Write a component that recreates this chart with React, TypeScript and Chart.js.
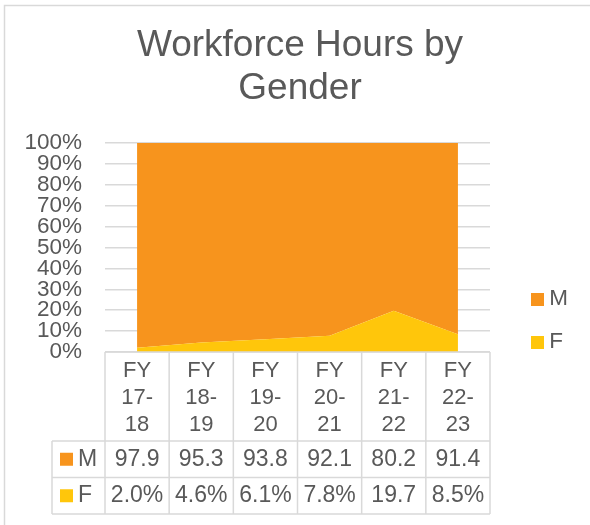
import React, { useEffect, useRef } from 'react';
import { Chart, registerables } from 'chart.js';

Chart.register(...registerables);

// ---- data ----
const categories: string[][] = [
  ['FY', '17-', '18'],
  ['FY', '18-', '19'],
  ['FY', '19-', '20'],
  ['FY', '20-', '21'],
  ['FY', '21-', '22'],
  ['FY', '22-', '23'],
];
const seriesNames = ['M', 'F'];
const mValues = [97.9, 95.3, 93.8, 92.1, 80.2, 91.4];
const fValues = [2.0, 4.6, 6.1, 7.8, 19.7, 8.5];
const titleLines = ['Workforce Hours by', 'Gender'];

// ---- styles ----
const FONT = "'Liberation Sans', Arial, sans-serif";
const TEXT = '#595959';
const GRID = '#d9d9d9';
const ORANGE = '#F7941D';
const YELLOW = '#FFC60B';

const shareOf = (a: number[], b: number[]) => a.map((v, i) => (v / (a[i] + b[i])) * 100);

const makeSwatch = (color: string) => {
  const c = document.createElement('canvas');
  c.width = 13;
  c.height = 13;
  const g = c.getContext('2d')!;
  g.fillStyle = color;
  g.fillRect(0, 0, 13, 13);
  return c;
};

const borderPlugin = {
  id: 'outerBorder',
  beforeDraw(chart: any) {
    const { ctx } = chart;
    ctx.save();
    ctx.strokeStyle = GRID;
    ctx.lineWidth = 1.5;
    ctx.beginPath();
    ctx.moveTo(4.5, chart.height + 5);
    ctx.lineTo(4.5, 5.5);
    ctx.lineTo(chart.width + 5, 5.5);
    ctx.stroke();
    ctx.restore();
  },
};

// legend sits a little right of the plot and lower than Chart.js' default
const LEGEND_GAP = 26.5;
const LEGEND_DROP = 22;
const legendPlacePlugin = {
  id: 'legendPlace',
  afterLayout(chart: any) {
    const lg = chart.legend;
    if (!lg) return;
    const dx = chart.chartArea.right + LEGEND_GAP - lg.left;
    lg.left += dx;
    lg.right += dx;
    lg.top += LEGEND_DROP;
    lg.bottom += LEGEND_DROP;
  },
};

const HEADER_H = 89;
const ROW_H = 36.5;
const KEY_W = 53;

const tablePlugin = {
  id: 'dataTable',
  afterDraw(chart: any) {
    const { ctx, chartArea } = chart;
    const x = chart.scales.x;
    const n = categories.length;
    const step = x.getPixelForValue(1) - x.getPixelForValue(0);
    const bounds: number[] = [];
    for (let i = 0; i <= n; i++) bounds.push(x.getPixelForValue(i) - step / 2);
    const top = chartArea.bottom;
    const hb = top + HEADER_H;
    const rows = [
      { name: seriesNames[0], values: mValues, color: ORANGE },
      { name: seriesNames[1], values: fValues, color: YELLOW },
    ];
    const bottom = hb + ROW_H * rows.length;
    const keyLeft = bounds[0] - KEY_W;

    ctx.save();
    ctx.strokeStyle = GRID;
    ctx.lineWidth = 1.5;
    ctx.beginPath();
    bounds.forEach((bx) => {
      ctx.moveTo(bx, top);
      ctx.lineTo(bx, bottom);
    });
    ctx.moveTo(keyLeft, hb);
    ctx.lineTo(keyLeft, bottom);
    ctx.moveTo(bounds[0], top);
    ctx.lineTo(bounds[n], top);
    for (let r = 0; r <= rows.length; r++) {
      const yy = hb + r * ROW_H;
      ctx.moveTo(keyLeft, yy);
      ctx.lineTo(bounds[n], yy);
    }
    ctx.stroke();

    ctx.font = `23px ${FONT}`;
    ctx.fillStyle = TEXT;
    ctx.textBaseline = 'middle';
    rows.forEach((row, r) => {
      const cy = hb + r * ROW_H + ROW_H / 2;
      ctx.fillStyle = row.color;
      ctx.fillRect(keyLeft + 8, cy - 6.5, 13, 13);
      ctx.fillStyle = TEXT;
      ctx.textAlign = 'left';
      ctx.fillText(row.name, keyLeft + 26, cy);
      ctx.textAlign = 'center';
      row.values.forEach((v, i) => {
        let s = `${v.toFixed(1)}%`;
        const maxW = bounds[i + 1] - bounds[i] - 4;
        while (s.length > 1 && ctx.measureText(s).width > maxW) s = s.slice(0, -1);
        ctx.fillText(s, x.getPixelForValue(i), cy);
      });
    });
    ctx.restore();
  },
};

export default function App() {
  const ref = useRef<HTMLCanvasElement>(null);

  useEffect(() => {
    if (!ref.current) return;
    Chart.defaults.font.family = FONT;
    const chart = new Chart(ref.current, {
      type: 'line',
      data: {
        labels: categories,
        datasets: [
          {
            label: seriesNames[1],
            data: shareOf(fValues, mValues),
            backgroundColor: YELLOW,
            borderColor: YELLOW,
            borderWidth: 0,
            pointRadius: 0,
            fill: 'origin',
          },
          {
            label: seriesNames[0],
            data: shareOf(mValues, fValues),
            backgroundColor: ORANGE,
            borderColor: ORANGE,
            borderWidth: 0,
            pointRadius: 0,
            fill: '-1',
          },
        ],
      },
      options: {
        responsive: false,
        animation: false,
        devicePixelRatio: 1,
        layout: { padding: { left: 10, right: 0, top: 0, bottom: 11 } },
        scales: {
          x: {
            offset: true,
            grid: { display: false, drawTicks: false },
            border: { display: false },
            ticks: {
              autoSkip: false,
              maxRotation: 0,
              color: TEXT,
              padding: 5,
              font: { family: FONT, size: 22, lineHeight: 27 / 22 },
            },
            afterFit: (s: any) => {
              s.height = 162;
            },
          },
          y: {
            stacked: true,
            min: 0,
            max: 100,
            grid: { color: GRID, lineWidth: 1.5, drawTicks: false },
            border: { display: false },
            ticks: {
              stepSize: 10,
              autoSkip: false,
              color: TEXT,
              padding: 23,
              font: { family: FONT, size: 22.5 },
              callback: (v: any) => `${v}%`,
            },
            afterFit: (s: any) => {
              s.width = 95;
            },
          },
          // empty spacer on the right, keeps room between plot and legend
          spacer: {
            type: 'linear',
            position: 'right',
            display: true,
            grid: { display: false, drawTicks: false },
            border: { display: false },
            ticks: { display: false },
            afterFit: (s: any) => {
              s.width = 38.5;
            },
          },
        },
        plugins: {
          title: {
            display: true,
            text: titleLines,
            color: TEXT,
            font: { family: FONT, size: 37, weight: 'normal', lineHeight: 42.5 / 37 },
            padding: { top: 24.75, bottom: 33.25 },
          },
          legend: {
            position: 'right',
            align: 'end',
            fullSize: false,
            reverse: true,
            labels: {
              color: TEXT,
              font: { family: FONT, size: 22.5 },
              padding: 20.5,
              usePointStyle: true,
              boxWidth: 1,
              generateLabels: (c: any) =>
                Chart.defaults.plugins.legend.labels
                  .generateLabels(c)
                  .map((it: any) => ({ ...it, pointStyle: makeSwatch(it.fillStyle) })),
            },
          },
          tooltip: { enabled: false },
        },
      } as any,
      plugins: [borderPlugin, legendPlacePlugin, tablePlugin],
    });
    return () => chart.destroy();
  }, []);

  return (
    <div style={{ position: 'absolute', left: 0, top: 0, width: 590, height: 525, background: '#fff' }}>
      <canvas ref={ref} width={590} height={525} />
    </div>
  );
}
